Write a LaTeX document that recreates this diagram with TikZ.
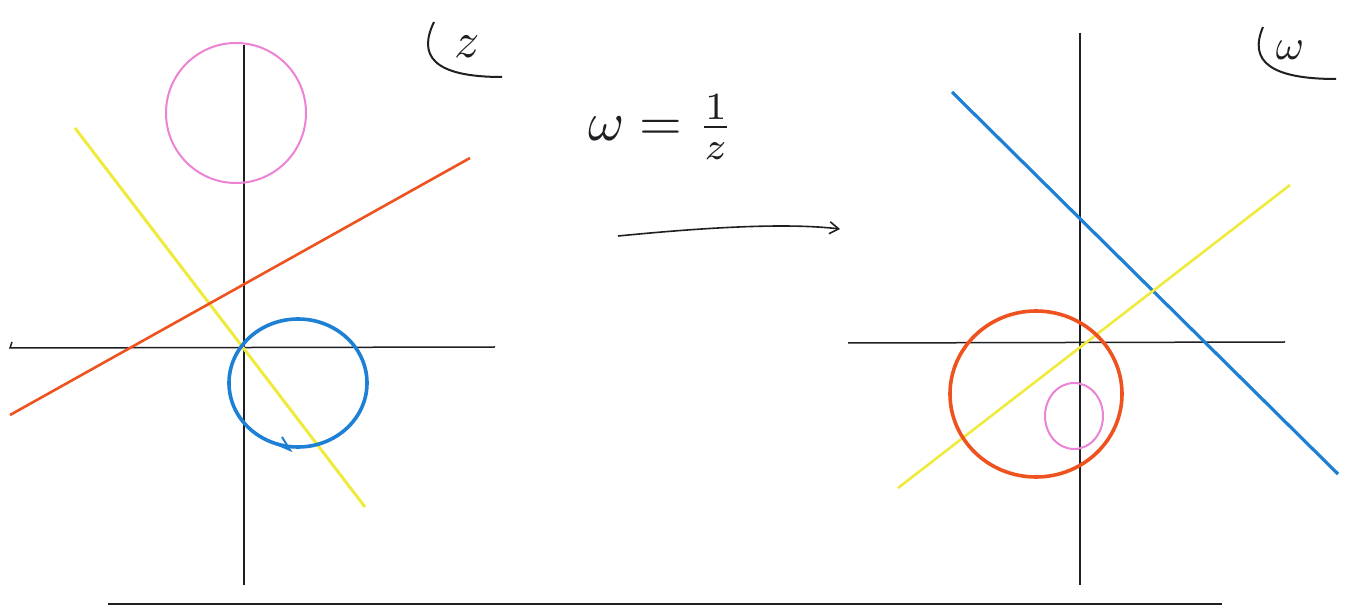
\documentclass[tikz,border=0pt]{standalone}
\usepackage{graphicx}
\usetikzlibrary{arrows.meta}
\definecolor{penpink}{RGB}{236,130,212}
\definecolor{penyellow}{RGB}{240,234,60}
\definecolor{penorange}{RGB}{238,82,30}
\definecolor{penblue}{RGB}{30,128,212}
\definecolor{ink}{RGB}{30,30,35}
\begin{document}
\begin{tikzpicture}[x=1pt,y=-1pt,
  axis/.style={ink,line width=1.5pt},
  thinpen/.style={line width=2pt},
  thickpen/.style={line width=3.6pt},
  label/.style={ink,inner sep=0pt}]
\useasboundingbox (0,0) rectangle (1345,609);
% ---- left plane (z) ----
\coordinate (Lyt) at (244,45);
\coordinate (Lyb) at (244,585);
\coordinate (Lxl) at (10,348);
\coordinate (Lxr) at (495,347);
\draw[axis] (Lyt) -- (Lyb);
\draw[axis] (12,342) -- (Lxl) -- (Lxr);
\draw[penpink,thinpen] (236,113) ellipse[x radius=70, y radius=70];
\coordinate (Ly1) at (75,128);
\coordinate (Ly2) at (365,507);
\draw[penyellow,line width=3pt] (Ly1) -- (Ly2);
\coordinate (Lo1) at (10,415);
\coordinate (Lo2) at (470,158);
\draw[penorange,line width=2.6pt] (Lo1) -- (Lo2);
\draw[penblue,thickpen] (298,383) ellipse[x radius=69, y radius=64];
\draw[penblue,line width=2pt] (276,444) -- (290,450) -- (282,437);
% ---- right plane (w) ----
\coordinate (Ryt) at (1080,33);
\coordinate (Ryb) at (1080,585);
\coordinate (Rxl) at (848,343);
\coordinate (Rxr) at (1285,342);
\draw[axis] (Ryt) -- (Ryb);
\draw[axis] (Rxl) -- (Rxr);
\coordinate (Rb1) at (952,92);
\coordinate (Rb2) at (1338,474);
\draw[penblue,line width=3.2pt] (Rb1) -- (Rb2);
\coordinate (Ry1) at (898,488);
\coordinate (Ry2) at (1290,185);
\draw[penyellow,line width=2.6pt] (Ry1) -- (Ry2);
\draw[penorange,thickpen] (1036,394) ellipse[x radius=86, y radius=83];
\draw[penpink,thinpen] (1074,416) ellipse[x radius=29, y radius=33];
% ---- bottom rule ----
\coordinate (B1) at (108,604);
\coordinate (B2) at (1222,604);
\draw[ink,line width=1.8pt] (B1) -- (B2);
% ---- plane labels ----
\draw[ink,line width=2pt] (434,22) .. controls (418,55) and (432,77) .. (502,77);
\node[label] (zlab) at (467,47) {\scalebox{5}{$z$}};
\draw[ink,line width=2pt] (1263,27) .. controls (1248,62) and (1272,79) .. (1336,79);
\node[label] (wlab) at (1290,50) {\scalebox{4.3}{$\omega$}};
% ---- map ----
\node[label] (map) at (661,127) {\scalebox{5.5}{$\omega = \frac{1}{z}$}};
\coordinate (A1) at (618,236);
\coordinate (A2) at (840,229);
\draw[ink,line width=1.6pt,-{Straight Barb[length=9pt,width=12pt]}] (A1) .. controls (690,229) and (780,222) .. (A2);
\end{tikzpicture}
\end{document}
